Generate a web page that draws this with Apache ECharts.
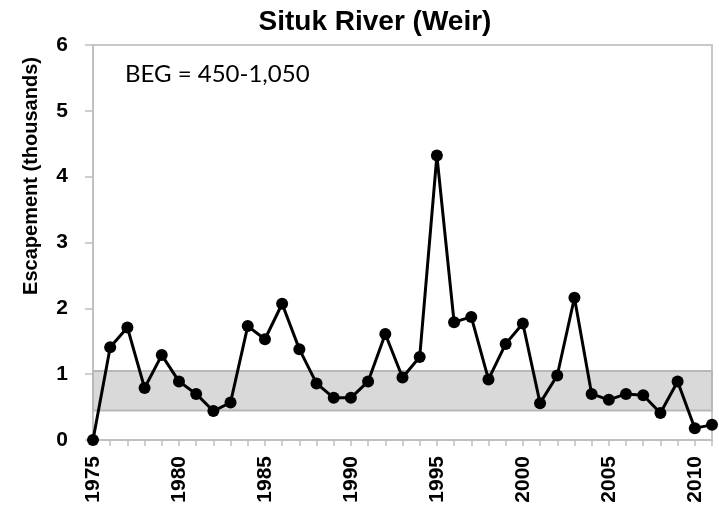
<!DOCTYPE html>
<html>
<head>
<meta charset="utf-8">
<script src="https://cdn.jsdelivr.net/npm/echarts@6/dist/echarts.min.js"></script>
<style>
  html, body { margin: 0; padding: 0; background: #fff; }
  #chart { width: 719px; height: 513px; }
</style>
</head>
<body>
<div id="chart"></div>
<script>
// Situk River weir escapement, thousands of fish
const years = [];
for (let y = 1975; y <= 2011; y++) years.push(String(y));

const escapement = [
  0.00, 1.41, 1.71, 0.79, 1.29, 0.89, 0.70, 0.44, 0.57, 1.73,
  1.53, 2.07, 1.38, 0.86, 0.64, 0.64, 0.89, 1.61, 0.95, 1.26,
  4.32, 1.79, 1.87, 0.92, 1.46, 1.77, 0.56, 0.98, 2.16, 0.70,
  0.61, 0.70, 0.68, 0.41, 0.89, 0.18, 0.23
];

// biological escapement goal range (thousands)
const begLow = 0.45;
const begHigh = 1.05;

const yTicks = [0, 1, 2, 3, 4, 5, 6];

const chart = echarts.init(document.getElementById("chart"));

chart.setOption({
  backgroundColor: "#ffffff",
  animation: false,
  graphic: [
    {
      type: "text",
      x: 375,
      y: 22,
      style: {
        text: "Situk River (Weir)",
        font: "bold 28px 'Liberation Sans'",
        fill: "#000",
        textAlign: "center",
        textVerticalAlign: "middle",
      },
    },
    {
      type: "text",
      x: 31,
      y: 176,
      rotation: Math.PI / 2,
      style: {
        text: "Escapement (thousands)",
        font: "bold 20px 'Liberation Sans'",
        fill: "#000",
        textAlign: "center",
        textVerticalAlign: "middle",
      },
    },
    {
      type: "text",
      x: 125,
      y: 74,
      style: {
        text: "BEG = 450-1,050",
        font: "24px Lato",
        fill: "#000",
        textVerticalAlign: "middle",
      },
    },
  ],
  grid: {
    left: 93,
    right: 7,
    top: 45,
    bottom: 73,
    show: true,
    borderColor: "#c8c8c8",
    borderWidth: 2,
  },
  xAxis: {
    type: "category",
    data: years,
    boundaryGap: false,
    axisLine: { lineStyle: { color: "#c0c0c0", width: 2 } },
    axisTick: {
      interval: 0,
      length: 6,
      lineStyle: { color: "#c0c0c0", width: 1.5 },
    },
    axisLabel: {
      interval: 4,
      rotate: 90,
      margin: 16,
      fontFamily: "Liberation Sans",
      fontWeight: "bold",
      fontSize: 21,
      color: "#000",
    },
    splitLine: { show: false },
  },
  yAxis: {
    type: "value",
    min: yTicks[0],
    max: yTicks[yTicks.length - 1],
    interval: 1,
    axisLine: { show: true, lineStyle: { color: "#c0c0c0", width: 2 } },
    axisTick: { show: true, length: 8, lineStyle: { color: "#c0c0c0", width: 1.5 } },
    axisLabel: {
      margin: 25,
      fontFamily: "Liberation Sans",
      fontWeight: "bold",
      fontSize: 21,
      color: "#000",
    },
    splitLine: { show: false },
  },
  series: [
    {
      name: "Escapement",
      type: "line",
      data: escapement,
      symbol: "circle",
      symbolSize: 12,
      showAllSymbol: true,
      lineStyle: { color: "#000", width: 3 },
      itemStyle: { color: "#000" },
      z: 5,
      markArea: {
        silent: true,
        itemStyle: {
          color: "#d9d9d9",
          borderColor: "#b8b8b8",
          borderWidth: 2,
        },
        data: [[{ yAxis: begLow }, { yAxis: begHigh }]],
      },
    },
  ],
});
</script>
</body>
</html>
